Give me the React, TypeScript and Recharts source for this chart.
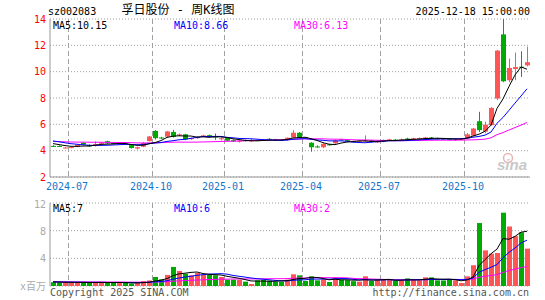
import React from 'react';
import { ComposedChart, Bar, Line, XAxis, YAxis, CartesianGrid } from 'recharts';

// weekly candles, 2024-06-14 .. 2025-12-18
const opens = [
  4.36, 4.36, 4.2, 4.22, 4.3, 4.6, 4.4, 4.4, 4.53, 4.72,
  4.58, 4.52, 4.54, 4.42, 4.16, 4.3, 4.72, 5.5, 5.0, 5.06,
  5.42, 5.18, 5.24, 4.88, 4.95, 5.08, 5.18, 5.08, 4.92, 4.98,
  4.8, 4.68, 4.8, 4.74, 4.8, 4.82, 4.9, 4.86, 4.82, 4.8,
  5.0, 5.36, 5.0, 4.6, 4.32, 4.26, 4.48, 4.56, 4.86, 4.8,
  4.72, 4.66, 4.72, 4.78, 4.64, 4.68, 4.76, 4.84, 4.8, 4.92,
  4.86, 4.9, 4.92, 5.0, 4.94, 4.92, 4.9, 4.84, 4.86, 4.92,
  5.14, 6.24, 5.44, 5.94, 7.96, 12.83, 9.35, 10.2, 10.38, 10.48,
];
const highs = [
  4.42, 4.4, 4.28, 4.3, 4.5, 4.64, 4.48, 4.7, 4.66, 4.75,
  4.62, 4.58, 4.58, 4.46, 4.3, 4.66, 5.12, 5.56, 5.05, 5.5,
  5.58, 5.3, 5.28, 4.98, 5.1, 5.2, 5.22, 5.3, 5.04, 5.0,
  4.86, 4.82, 4.84, 4.9, 4.84, 4.88, 4.94, 4.9, 4.86, 5.0,
  5.56, 5.42, 5.04, 4.64, 4.4, 4.56, 4.52, 4.84, 4.9, 4.84,
  4.76, 4.76, 5.16, 4.82, 4.8, 4.84, 4.9, 4.88, 4.92, 4.98,
  4.98, 5.0, 5.04, 5.04, 4.98, 4.96, 4.92, 4.9, 4.92, 5.34,
  5.72, 6.95, 6.2, 7.3, 11.65, 14.0, 11.0, 11.45, 11.55, 11.9,
];
const lows = [
  4.28, 4.28, 4.15, 4.18, 4.26, 4.42, 4.3, 4.32, 4.48, 4.52,
  4.5, 4.48, 4.45, 4.16, 4.1, 4.26, 4.7, 4.85, 4.88, 5.0,
  5.0, 5.1, 4.8, 4.82, 4.9, 5.04, 5.02, 4.82, 4.78, 4.72,
  4.66, 4.62, 4.7, 4.7, 4.72, 4.76, 4.84, 4.78, 4.74, 4.76,
  4.98, 4.98, 4.9, 3.92, 4.22, 4.2, 4.4, 4.52, 4.78, 4.66,
  4.64, 4.62, 4.66, 4.62, 4.58, 4.64, 4.72, 4.76, 4.74, 4.8,
  4.82, 4.86, 4.86, 4.88, 4.86, 4.84, 4.8, 4.74, 4.82, 4.88,
  5.1, 5.42, 5.32, 5.9, 7.84, 9.2, 9.2, 9.35, 9.6, 10.4,
];
const closes = [
  4.33, 4.33, 4.24, 4.27, 4.46, 4.46, 4.36, 4.5, 4.6, 4.56,
  4.54, 4.55, 4.48, 4.2, 4.26, 4.58, 5.08, 4.95, 4.96, 5.46,
  5.05, 5.24, 4.86, 4.95, 5.04, 5.16, 5.06, 5.05, 4.94, 4.76,
  4.7, 4.76, 4.76, 4.78, 4.76, 4.8, 4.86, 4.82, 4.8, 4.98,
  5.36, 5.02, 4.94, 4.26, 4.3, 4.52, 4.44, 4.78, 4.84, 4.7,
  4.68, 4.72, 4.78, 4.66, 4.7, 4.8, 4.86, 4.8, 4.86, 4.84,
  4.94, 4.96, 5.0, 4.92, 4.9, 4.88, 4.86, 4.88, 4.9, 5.24,
  5.68, 5.56, 5.98, 7.25, 11.6, 9.27, 10.28, 10.35, 10.3, 10.72,
];
// volume, millions of shares
const volumes = [
  0.55, 0.5, 0.52, 0.48, 0.56, 0.52, 0.46, 0.54, 0.52, 0.5,
  0.48, 0.52, 0.44, 0.35, 0.45, 0.7, 0.8, 1.3, 0.96, 1.6,
  2.75, 2.17, 1.78, 1.54, 1.88, 1.64, 1.6, 1.55, 1.3, 0.92,
  0.92, 0.9, 0.63, 0.29, 0.82, 0.9, 0.78, 0.63, 0.63, 0.92,
  1.69, 1.54, 0.72, 1.4, 0.82, 0.96, 0.58, 1.2, 0.9, 0.85,
  0.7, 0.63, 1.4, 0.72, 0.9, 0.9, 0.9, 0.72, 0.82, 1.1,
  0.9, 0.82, 1.25, 1.25, 0.82, 0.8, 0.9, 0.82, 0.43, 1.4,
  3.0, 9.1, 5.15, 4.67, 4.77, 10.6, 8.6, 7.2, 7.76, 5.4,
];
// weeks before the visible window (only feed the moving averages)
const priorCloses = [
  4.55, 4.62, 4.7, 4.66, 4.58, 4.52, 4.6, 4.68, 4.74, 4.7,
  4.62, 4.56, 4.64, 4.72, 4.8, 4.76, 4.7, 4.66, 4.74, 4.82,
  4.98, 5.02, 4.94, 4.88, 4.9, 4.7, 4.62, 4.55, 4.48,
];
const priorVolumes = [
  0.62, 0.58, 0.66, 0.6, 0.55, 0.64, 0.7, 0.58, 0.62, 0.6,
  0.56, 0.66, 0.62, 0.58, 0.64, 0.6, 0.57, 0.63, 0.61, 0.59,
  0.66, 0.62, 0.58, 0.64, 0.6, 0.58, 0.62, 0.56, 0.6,
];

const monthTicks = [3, 17, 29, 42, 55, 69];
const monthLabels = ['2024-07', '2024-10', '2025-01', '2025-04', '2025-07', '2025-10'];
const priceTicks = [2, 4, 6, 8, 10, 12, 14];
const volumeTicks = [0, 4, 8, 12];
const priceLegend = ['MA5:10.15', 'MA10:8.66', 'MA30:6.13'];
const volumeLegend = ['MA5:7', 'MA10:6', 'MA30:2'];

const UP = '#ff5555';
const DOWN = '#00aa00';
const MA_COLORS = ['#000000', '#0000ff', '#ff00ff'];
const MONO = '"DejaVu Sans Mono", "Noto Sans CJK SC", monospace';
const GRID = '#a0a0a0';
const BORDER = '#999999';

function movingAverage(values: number[], prior: number[], n: number) {
  const all = prior.concat(values);
  return values.map((_, i) => {
    const end = prior.length + i + 1;
    const win = all.slice(Math.max(0, end - n), end);
    return win.reduce((a, b) => a + b, 0) / win.length;
  });
}

const pMa5 = movingAverage(closes, priorCloses, 5);
const pMa10 = movingAverage(closes, priorCloses, 10);
const pMa30 = movingAverage(closes, priorCloses, 30);
const vMa5 = movingAverage(volumes, priorVolumes, 5);
const vMa10 = movingAverage(volumes, priorVolumes, 10);
const vMa30 = movingAverage(volumes, priorVolumes, 30);

const data = opens.map((open, i) => ({
  idx: i,
  open,
  high: highs[i],
  low: lows[i],
  close: closes[i],
  range: [lows[i], highs[i]],
  vol: volumes[i],
  ma5: pMa5[i],
  ma10: pMa10[i],
  ma30: pMa30[i],
  vma5: vMa5[i],
  vma10: vMa10[i],
  vma30: vMa30[i],
}));

const Candle = (props: any) => {
  const { x, y, width, height, payload } = props;
  if (!payload || !height) return null;
  const { open, close, high, low } = payload;
  const k = height / (high - low);
  const yOf = (v: number) => y + (high - v) * k;
  const color = close >= open ? UP : DOWN;
  const bx = Math.floor(x);
  const top = yOf(Math.max(open, close));
  const bottom = yOf(Math.min(open, close));
  return (
    <g>
      <line x1={bx + 2.5} x2={bx + 2.5} y1={y} y2={y + height} stroke={color} strokeWidth={1} />
      <rect x={bx} y={top} width={Math.round(width)} height={Math.max(1, bottom - top)} fill={color} />
    </g>
  );
};

const VolumeBar = (props: any) => {
  const { x, y, width, height, payload } = props;
  if (!payload) return null;
  const color = payload.close >= payload.open ? UP : DOWN;
  return <rect x={Math.floor(x)} y={y} width={Math.round(width)} height={height} fill={color} />;
};

const monthGrid = ({ xAxis, offset }: any) =>
  monthTicks.map((i) => {
    const pos = xAxis && typeof xAxis.scale === 'function' ? xAxis.scale(i) : offset.left + (i * offset.width) / data.length;
    return Math.round(pos) + 0.5;
  });

const MonthTick = ({ x, y, payload }: any) => {
  const k = monthTicks.indexOf(payload.value);
  if (k < 0) return null;
  return (
    <text x={x - 4} y={y + 13} textAnchor="middle" fontFamily={MONO} fontSize={10} fill="#1177cc">
      {monthLabels[k]}
    </text>
  );
};

const VolumeTick = ({ x, y, payload }: any) => (
  <text x={x} y={y + 4} textAnchor="end" fontFamily={MONO} fontSize={10} fill="#aaaaaa">
    {payload.value === 0 ? 'x百万' : payload.value}
  </text>
);

const legendX = [53, 174, 294];

export default function App() {
  return (
    <div style={{ position: 'absolute', left: 0, top: 0, width: 545, height: 300, background: '#fff' }}>
      <div style={{ position: 'absolute', left: 0, top: 0 }}>
        <ComposedChart width={545} height={195} data={data} margin={{ top: 19, right: 15, bottom: 5, left: 0 }} barSize={5}>
          <CartesianGrid vertical={false} stroke={GRID} strokeDasharray="1 2" />
          <CartesianGrid horizontal={false} stroke={GRID} strokeDasharray="5 3" verticalCoordinatesGenerator={monthGrid} />
          <XAxis
            dataKey="idx"
            type="category"
            ticks={monthTicks}
            interval={0}
            height={13}
            tickLine={false}
            tickSize={0}
            tickMargin={0}
            axisLine={{ stroke: BORDER }}
            tick={<MonthTick />}
          />
          <XAxis xAxisId="top" dataKey="idx" orientation="top" height={0} tick={false} tickLine={false} axisLine={{ stroke: BORDER }} />
          <YAxis
            domain={[2, 14]}
            ticks={priceTicks}
            allowDataOverflow
            width={50}
            tickLine={false}
            tickSize={2}
            tickMargin={2}
            axisLine={{ stroke: BORDER }}
            tick={{ fill: '#ff0000', fontFamily: MONO, fontSize: 10 }}
          />
          <YAxis yAxisId="right" orientation="right" domain={[2, 14]} width={0} tick={false} tickLine={false} axisLine={{ stroke: BORDER }} />
          <Bar dataKey="range" shape={<Candle />} isAnimationActive={false} />
          <Line type="linear" dataKey="ma30" stroke={MA_COLORS[2]} strokeWidth={1} dot={false} isAnimationActive={false} />
          <Line type="linear" dataKey="ma10" stroke={MA_COLORS[1]} strokeWidth={1} dot={false} isAnimationActive={false} />
          <Line type="linear" dataKey="ma5" stroke={MA_COLORS[0]} strokeWidth={1} dot={false} isAnimationActive={false} />
        </ComposedChart>
      </div>
      <div style={{ position: 'absolute', left: 0, top: 195 }}>
        <ComposedChart width={545} height={105} data={data} margin={{ top: 8, right: 15, bottom: 14, left: 0 }} barSize={5}>
          <CartesianGrid vertical={false} stroke={GRID} strokeDasharray="1 2" />
          <CartesianGrid horizontal={false} stroke={GRID} strokeDasharray="5 3" verticalCoordinatesGenerator={monthGrid} />
          <XAxis dataKey="idx" type="category" height={0} tick={false} tickLine={false} axisLine={{ stroke: BORDER }} />
          <XAxis xAxisId="top" dataKey="idx" orientation="top" height={0} tick={false} tickLine={false} axisLine={{ stroke: BORDER }} />
          <YAxis
            domain={[0, 12]}
            ticks={volumeTicks}
            allowDataOverflow
            width={50}
            tickLine={false}
            tickSize={2}
            tickMargin={2}
            axisLine={{ stroke: BORDER }}
            tick={<VolumeTick />}
          />
          <YAxis yAxisId="right" orientation="right" domain={[0, 12]} width={0} tick={false} tickLine={false} axisLine={{ stroke: BORDER }} />
          <Bar dataKey="vol" shape={<VolumeBar />} isAnimationActive={false} />
          <Line type="linear" dataKey="vma30" stroke={MA_COLORS[2]} strokeWidth={1} dot={false} isAnimationActive={false} />
          <Line type="linear" dataKey="vma10" stroke={MA_COLORS[1]} strokeWidth={1} dot={false} isAnimationActive={false} />
          <Line type="linear" dataKey="vma5" stroke={MA_COLORS[0]} strokeWidth={1} dot={false} isAnimationActive={false} />
        </ComposedChart>
      </div>
      <svg width={545} height={300} style={{ position: 'absolute', left: 0, top: 0, pointerEvents: 'none' }}>
        <text x={48} y={15} fontFamily={MONO} fontSize={10} fill="#000">sz002083</text>
        <text x={178} y={14} textAnchor="middle" fontFamily={MONO} fontSize={12} fill="#000">孚日股份 - 周K线图</text>
        <text x={530} y={15} textAnchor="end" fontFamily={MONO} fontSize={10} fill="#000">2025-12-18 15:00:00</text>
        {priceLegend.map((t, i) => (
          <text key={t} x={legendX[i]} y={28.5} fontFamily={MONO} fontSize={10} fill={MA_COLORS[i]}>{t}</text>
        ))}
        {volumeLegend.map((t, i) => (
          <text key={t} x={legendX[i]} y={212} fontFamily={MONO} fontSize={10} fill={MA_COLORS[i]}>{t}</text>
        ))}
        <circle cx={508} cy={158} r={4.5} fill="none" stroke="#e8b4b4" strokeWidth={1.5} />
        <text x={497} y={170} fontFamily='"Liberation Sans", sans-serif' fontStyle="italic" fontWeight="bold" fontSize={15} fill="#c8c8c8">sina</text>
        <text x={50} y={296} fontFamily={MONO} fontSize={10} fill="#555">Copyright 2025 SINA.COM</text>
        <text x={529} y={296} textAnchor="end" fontFamily={MONO} fontSize={10} fill="#555">http://finance.sina.com.cn</text>
      </svg>
    </div>
  );
}
